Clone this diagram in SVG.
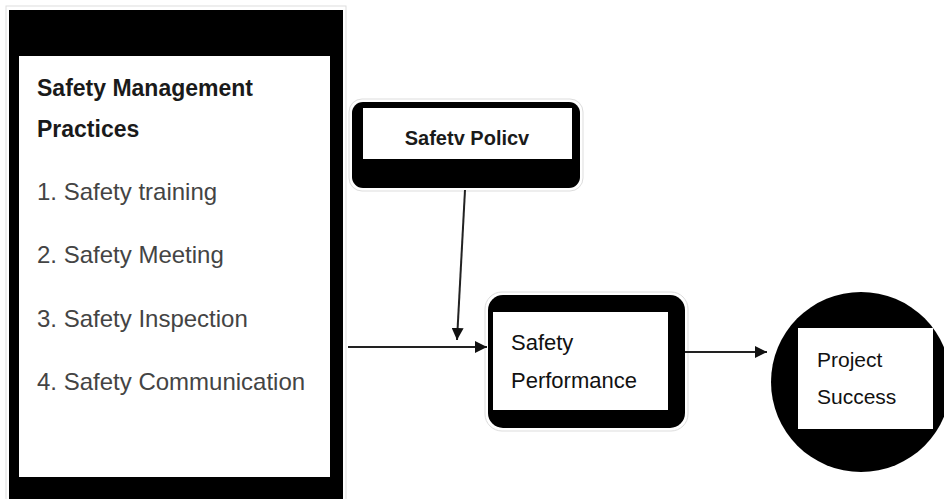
<svg xmlns="http://www.w3.org/2000/svg" width="944" height="499" viewBox="0 0 944 499">
<defs>
<style>
.t{font-family:"Liberation Sans",Arial,sans-serif;}
.h{font-size:23px;font-weight:bold;fill:#1a1a1a;}
.li{font-size:24px;fill:#444;}
.n{font-size:22px;fill:#111;}
.edge{stroke:#222;stroke-width:2;fill:none;}
.halo{fill:none;stroke:#ddd;stroke-width:1;}
</style>
<marker id="ah" viewBox="0 0 12 12" refX="12" refY="6" markerWidth="12" markerHeight="12" markerUnits="userSpaceOnUse" orient="auto">
<path d="M0,0 L12,6 L0,12 Z" fill="#111"/>
</marker>
</defs>
<rect width="944" height="499" fill="#fff"/>
<g id="practices">
<rect x="6" y="6" width="340" height="500" class="halo"/>
<rect x="9" y="10" width="334" height="495" fill="#000"/>
<rect x="19" y="56" width="311" height="421" fill="#fff"/>
<text class="t h" x="37" y="96">Safety Management</text>
<text class="t h" x="37" y="137">Practices</text>
<text class="t li" x="37" y="200">1. Safety training</text>
<text class="t li" x="37" y="263">2. Safety Meeting</text>
<text class="t li" x="37" y="327">3. Safety Inspection</text>
<text class="t li" x="37" y="390">4. Safety Communication</text>
</g>
<g id="policy">
<rect x="349" y="99" width="234" height="92" rx="13" class="halo"/>
<rect x="352" y="102" width="228" height="86" rx="11" fill="#000"/>
<rect x="363" y="108" width="209" height="51" fill="#fff"/>
<text class="t" x="467" y="145" text-anchor="middle" font-size="20" font-weight="bold" fill="#1a1a1a">Safetv Policv</text>
</g>
<g id="performance">
<rect x="485" y="292" width="203" height="139" rx="17" class="halo"/>
<rect x="488" y="295" width="197" height="133" rx="15" fill="#000"/>
<rect x="493" y="312" width="175" height="98" fill="#fff"/>
<text class="t n" x="511" y="350">Safety</text>
<text class="t n" x="511" y="388">Performance</text>
</g>
<g id="success">
<circle cx="861" cy="382" r="90" fill="#000"/>
<rect x="798" y="328" width="135" height="101" fill="#fff"/>
<text class="t" x="817" y="367" font-size="21" fill="#111">Project</text>
<text class="t" x="817" y="404" font-size="21" fill="#111">Success</text>
</g>
<g id="connectors">
<line class="edge" x1="465" y1="190" x2="457" y2="340" marker-end="url(#ah)" stroke-width="1.5"/>
<line class="edge" x1="348" y1="347" x2="487" y2="347" marker-end="url(#ah)"/>
<line class="edge" x1="685" y1="352" x2="767" y2="352" marker-end="url(#ah)"/>
</g>
</svg>
